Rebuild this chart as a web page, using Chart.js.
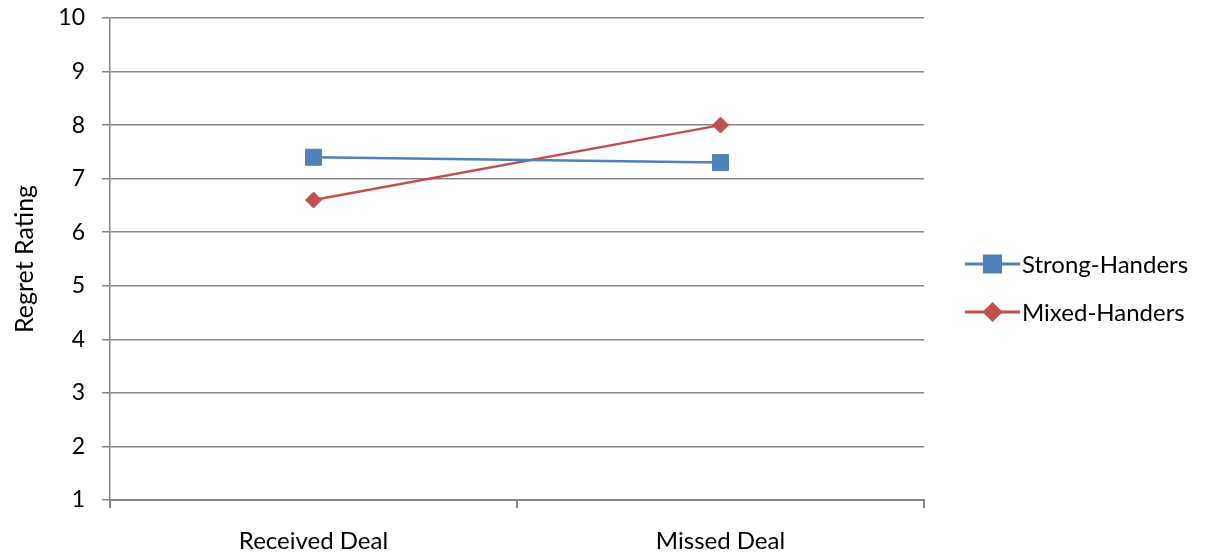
<!DOCTYPE html>
<html>
<head>
<meta charset="utf-8">
<script src="https://cdn.jsdelivr.net/npm/chart.js@4.4.1/dist/chart.umd.min.js"></script>
<style>
  html, body { margin: 0; padding: 0; background: #fff; }
  #wrap { width: 1210px; height: 560px; }
</style>
</head>
<body>
<div id="wrap"><canvas id="chart" width="1210" height="560"></canvas></div>
<script>
const categories = ['Received Deal', 'Missed Deal']
const strongHanders = [7.4, 7.3]
const mixedHanders = [6.6, 8.0]
const yTicks = [1, 2, 3, 4, 5, 6, 7, 8, 9, 10]

const BLUE = '#4F81BD'
const RED = '#C0504D'
const AXIS = '#868686'
const FONT = 'Lato, "Open Sans", sans-serif'

const series = [
  { label: 'Strong-Handers', data: strongHanders, color: BLUE, style: 'rect', radius: 11.3 },
  { label: 'Mixed-Handers', data: mixedHanders, color: RED, style: 'rectRot', radius: 8 }
]

// legend on the right: line with the marker sitting on it
const sideLegend = {
  id: 'sideLegend',
  afterDraw(chart) {
    const ctx = chart.ctx
    const x0 = 965, x1 = 1020
    const rows = [264, 312]
    ctx.save()
    series.forEach((s, i) => {
      const y = rows[i]
      ctx.strokeStyle = s.color
      ctx.lineWidth = 3
      ctx.beginPath()
      ctx.moveTo(x0, y)
      ctx.lineTo(x1, y)
      ctx.stroke()
      ctx.fillStyle = s.color
      Chart.helpers.drawPoint(ctx, {
        pointStyle: s.style, radius: s.radius, borderWidth: 1
      }, (x0 + x1) / 2, y)
      ctx.fillStyle = '#000'
      ctx.font = '24px ' + FONT
      ctx.textBaseline = 'middle'
      ctx.fillText(s.label, x1 + 2, y + 1)
    })
    ctx.restore()
  }
}

new Chart(document.getElementById('chart'), {
  type: 'line',
  data: {
    labels: categories,
    datasets: series.map(s => ({
      label: s.label,
      data: s.data,
      borderColor: s.color,
      backgroundColor: s.color,
      borderWidth: 2.5,
      pointStyle: s.style,
      pointRadius: s.radius,
      pointBorderWidth: 1,
      pointBackgroundColor: s.color,
      pointBorderColor: s.color,
      tension: 0
    }))
  },
  options: {
    responsive: false,
    animation: false,
    layout: { padding: { top: 18, right: 286, left: 0, bottom: 0 } },
    plugins: {
      legend: { display: false },
      tooltip: { enabled: false }
    },
    scales: {
      x: {
        offset: true,
        grid: {
          offset: true,
          drawOnChartArea: false,
          drawTicks: true,
          tickLength: 8,
          color: AXIS,
          lineWidth: 2
        },
        border: { color: AXIS, width: 2 },
        ticks: { color: '#000', font: { family: FONT, size: 24 }, padding: 19, maxRotation: 0 },
        afterFit(scale) {
          scale.height = 60
          scale.paddingLeft = 0
          scale.paddingRight = 0
        }
      },
      y: {
        min: 1,
        max: 10,
        afterBuildTicks(scale) { scale.ticks = yTicks.map(v => ({ value: v })) },
        grid: { color: AXIS, lineWidth: 1.5, tickLength: 8 },
        border: { color: AXIS, width: 1.5 },
        ticks: { color: '#000', font: { family: FONT, size: 23 }, padding: 17 },
        title: {
          display: true,
          text: 'Regret Rating',
          color: '#000',
          font: { family: FONT, size: 25 },
          padding: { top: 10, bottom: 0 }
        },
        afterFit(scale) {
          scale.width = 110
          scale.paddingTop = 0
          scale.paddingBottom = 0
        }
      }
    }
  },
  plugins: [sideLegend]
})
</script>
</body>
</html>
